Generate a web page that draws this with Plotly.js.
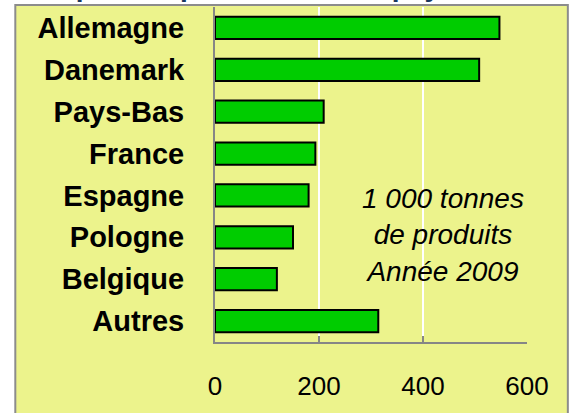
<!DOCTYPE html>
<html><head><meta charset="utf-8">
<script src="https://cdn.plot.ly/plotly-3.0.1.min.js"></script>
<style>html,body{margin:0;padding:0;background:#fff;}#chart{width:569px;height:413px;}</style>
</head><body><div id="chart"></div>
<script>
var countries = ["Allemagne","Danemark","Pays-Bas","France","Espagne","Pologne","Belgique","Autres"];
var volumes = [547, 508, 209, 193, 180, 150, 119, 314];
var xTicks = [0, 200, 400, 600];
var noteText = "1 000 tonnes<br>de produits<br>Année 2009";
var titleText = "Principaux exportateurs vers pays tiers";

var L = 215, R = 526.7, T = 7, B = 342;
var W = R - L, H = B - T;
function px(x){ return (x - L) / W; }
function py(y){ return (B - y) / H; }
var FONT = "Liberation Sans, Arial, sans-serif";

var data = [{
  type: "bar", orientation: "h",
  y: countries, x: volumes,
  marker: {color: "#00CC00", line: {color: "#000000", width: 2}},
  hoverinfo: "skip"
}];

var layout = {
  width: 569, height: 413,
  margin: {l: L, r: 569 - R, t: T, b: 413 - B, pad: 0},
  paper_bgcolor: "#ffffff",
  plot_bgcolor: "rgba(0,0,0,0)",
  showlegend: false,
  bargap: 0.47,
  xaxis: {
    range: [0, 600], tickvals: xTicks, ticktext: xTicks.map(String),
    showgrid: true, gridcolor: "#ffffff", gridwidth: 2,
    showline: true, linecolor: "#868686", linewidth: 2,
    ticks: "inside", ticklen: 6, tickcolor: "#868686", tickwidth: 2,
    zeroline: false, fixedrange: true,
    tickfont: {family: FONT, size: 26, color: "#000"},
    ticklabelstandoff: 20
  },
  yaxis: {
    categoryorder: "array", categoryarray: countries, autorange: "reversed",
    showgrid: false, showline: true, linecolor: "#868686", linewidth: 2,
    ticks: "", zeroline: false, fixedrange: true,
    tickfont: {family: FONT, size: 29, color: "#000", weight: "bold"},
    ticklabelstandoff: 23
  },
  shapes: [{
    type: "rect", xref: "paper", yref: "paper", layer: "below",
    x0: px(15.5), x1: px(567.5), y0: py(430), y1: py(5),
    fillcolor: "#ECF38C", line: {color: "#8C8C8C", width: 2}
  }],
  annotations: [{
    xref: "paper", yref: "paper", x: px(443), y: py(235),
    xanchor: "center", yanchor: "middle", showarrow: false,
    text: noteText,
    font: {family: FONT, size: 28, color: "#000", style: "italic"}
  },{
    xref: "paper", yref: "paper", x: px(-4), y: py(4),
    xanchor: "left", yanchor: "bottom", showarrow: false,
    text: "<b>" + titleText + "</b>",
    font: {family: FONT, size: 28, color: "#17375E"}
  }]
};
Plotly.newPlot("chart", data, layout, {displayModeBar: false, staticPlot: true});
</script></body></html>
